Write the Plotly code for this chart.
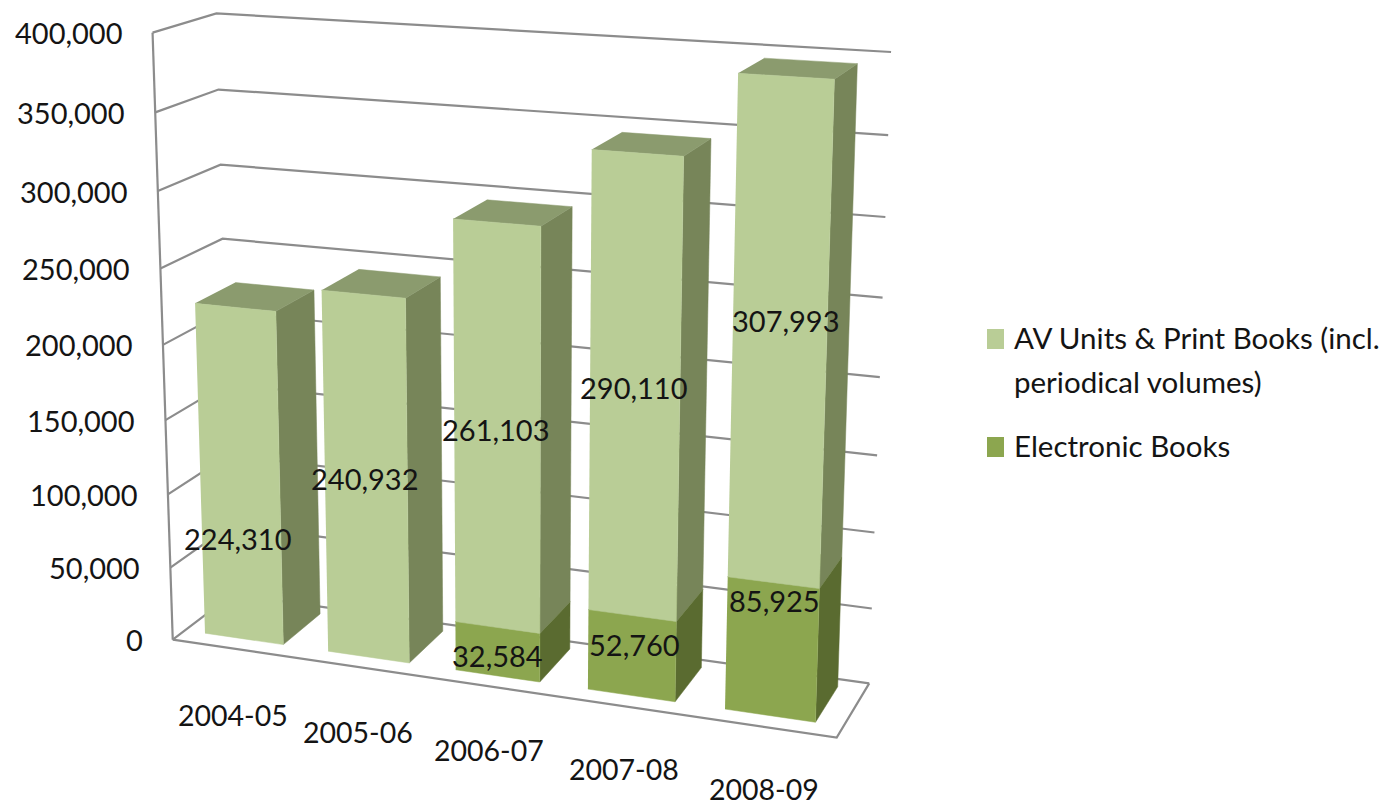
import numpy as np
import plotly.graph_objects as go

# ---------- data ----------
categories = ["2004-05", "2005-06", "2006-07", "2007-08", "2008-09"]
electronic = [0, 0, 32584, 52760, 85925]
av_print = [224310, 240932, 261103, 290110, 307993]
tick_values = [0, 50000, 100000, 150000, 200000, 250000, 300000, 350000, 400000]
tick_labels = ["0", "50,000", "100,000", "150,000", "200,000", "250,000", "300,000", "350,000", "400,000"]
av_name = ["AV Units &amp; Print Books (incl.", "periodical volumes)"]
el_name = ["Electronic Books"]

# ---------- style / layout ----------
W, H = 1383, 806
FONT = "Lato, Carlito, sans-serif"
INK = "#141414"
GRID = "#8c8c8c"
AV = dict(front="#B9CD96", side="#778559", top="#8B9B6E")
EL = dict(front="#8CA64F", side="#5A6B30", top="#6F8540")
Z_MAX = 400000.0
BAR_W = 0.64
BAR_SHIFT = -0.003
Y0, Y1 = 0.20, 0.86
# where each data label sits along its own segment (fraction of height, pixel nudge in x)
av_label_frac = [0.31, 0.50, 0.50, 0.505, 0.53]
av_label_dx = [-5, -3, -3, -3, 4]
el_label_frac = [0, 0, 0.43, 0.64, 0.87]
el_label_dx = [0, 0, -2, 1, -1]

# Projective camera of the 3-D box, solved from where the box corners land on the page:
# (category fraction, depth, value fraction) -> page pixel
box = [((0, 0, 0), (173, 639)), ((1, 0, 0), (837, 738)), ((1, 1, 0), (869, 683)),
       ((0, 1, 0), (232, 595)), ((0, 0, 1), (152, 33)), ((0, 1, 1), (217, 13)),
       ((1, 1, 1), (891, 52))]
A, b = [], []
for (X, Y, Z), (u, v) in box:
    A.append([X, Y, Z, 1, 0, 0, 0, 0, -u * X, -u * Y, -u * Z])
    A.append([0, 0, 0, 0, X, Y, Z, 1, -v * X, -v * Y, -v * Z])
    b += [u, v]
p = np.linalg.lstsq(np.array(A, float), np.array(b, float), rcond=None)[0]
P = np.append(p, 1.0).reshape(3, 4)


def project(cat, depth, value):
    h = P @ np.array([cat, depth, value / Z_MAX, 1.0])
    return h[0] / h[2], h[1] / h[2]


def path(points):
    xy = [project(*q) for q in points]
    return [a for a, _ in xy], [c for _, c in xy]


fig = go.Figure()


def line(points):
    x, y = path(points)
    fig.add_trace(go.Scatter(x=x, y=y, mode="lines", line=dict(color=GRID, width=2.2),
                             hoverinfo="skip", showlegend=False))


def face(points, color):
    x, y = path(points)
    fig.add_trace(go.Scatter(x=x, y=y, mode="lines", fill="toself", fillcolor=color,
                             line=dict(color=color, width=0.5), hoverinfo="skip", showlegend=False))


# walls and floor
for t in tick_values:
    line([(0, 0, t), (0, 1, t), (1, 1, t)])
line([(0, 0, 0), (0, 0, Z_MAX)])
line([(0, 0, 0), (1, 0, 0), (1, 1, 0)])

# bars
n = len(categories)
for i in range(n):
    x0 = (i + 0.5 - BAR_W / 2) / n + BAR_SHIFT
    x1 = (i + 0.5 + BAR_W / 2) / n + BAR_SHIFT
    segments = [(0, electronic[i], EL), (electronic[i], electronic[i] + av_print[i], AV)]
    for lo, hi, col in segments:
        if hi == lo:
            continue
        face([(x1, Y0, lo), (x1, Y1, lo), (x1, Y1, hi), (x1, Y0, hi)], col["side"])
        face([(x0, Y0, hi), (x1, Y0, hi), (x1, Y1, hi), (x0, Y1, hi)], col["top"])
        face([(x0, Y0, lo), (x1, Y0, lo), (x1, Y0, hi), (x0, Y0, hi)], col["front"])

annotations = []


def label(x, y, text, size=29, anchor="center"):
    annotations.append(dict(x=x, y=y, text=text, showarrow=False, xanchor=anchor, yanchor="middle",
                            font=dict(family=FONT, size=size, color=INK)))


# value axis labels
for t, s in zip(tick_values, tick_labels):
    u, v = project(0, 0, t)
    label(u - 28, v, s, anchor="right")

# category labels
for i, c in enumerate(categories):
    u, v = project((i + 0.5) / n, 0, 0)
    label(u - 1, v + 66 - i, c, size=28.5)

# data labels
for i in range(n):
    cat = (i + 0.5) / n
    u, v = project(cat, Y0, electronic[i] + av_print[i] * av_label_frac[i])
    label(u + av_label_dx[i], v, f"{av_print[i]:,}")
    if electronic[i]:
        u, v = project(cat, Y0, electronic[i] * el_label_frac[i])
        label(u + el_label_dx[i], v, f"{electronic[i]:,}")

# legend block: swatches and their text
shapes = []
for name_lines, col, ys, (sy0, sy1) in [(av_name, AV, [337, 381], (329, 349)),
                                        (el_name, EL, [445], (437, 457))]:
    shapes.append(dict(type="rect", xref="x", yref="y", x0=987, x1=1004, y0=sy0, y1=sy1,
                       fillcolor=col["front"], line=dict(width=0)))
    for s, y in zip(name_lines, ys):
        annotations.append(dict(x=1012, y=y, text=s, showarrow=False, xanchor="left", yanchor="middle",
                                font=dict(family=FONT, size=29.5, color=INK)))

fig.update_layout(
    width=W, height=H, autosize=False,
    margin=dict(l=0, r=0, t=0, b=0, autoexpand=False),
    paper_bgcolor="white", plot_bgcolor="white",
    xaxis=dict(range=[0, W], visible=False, fixedrange=True),
    yaxis=dict(range=[H, 0], visible=False, fixedrange=True),
    annotations=annotations,
    shapes=shapes,
    showlegend=False,
)
fig.write_html("out.html", post_script="document.body.style.margin='0';",
               config={"displayModeBar": False})
